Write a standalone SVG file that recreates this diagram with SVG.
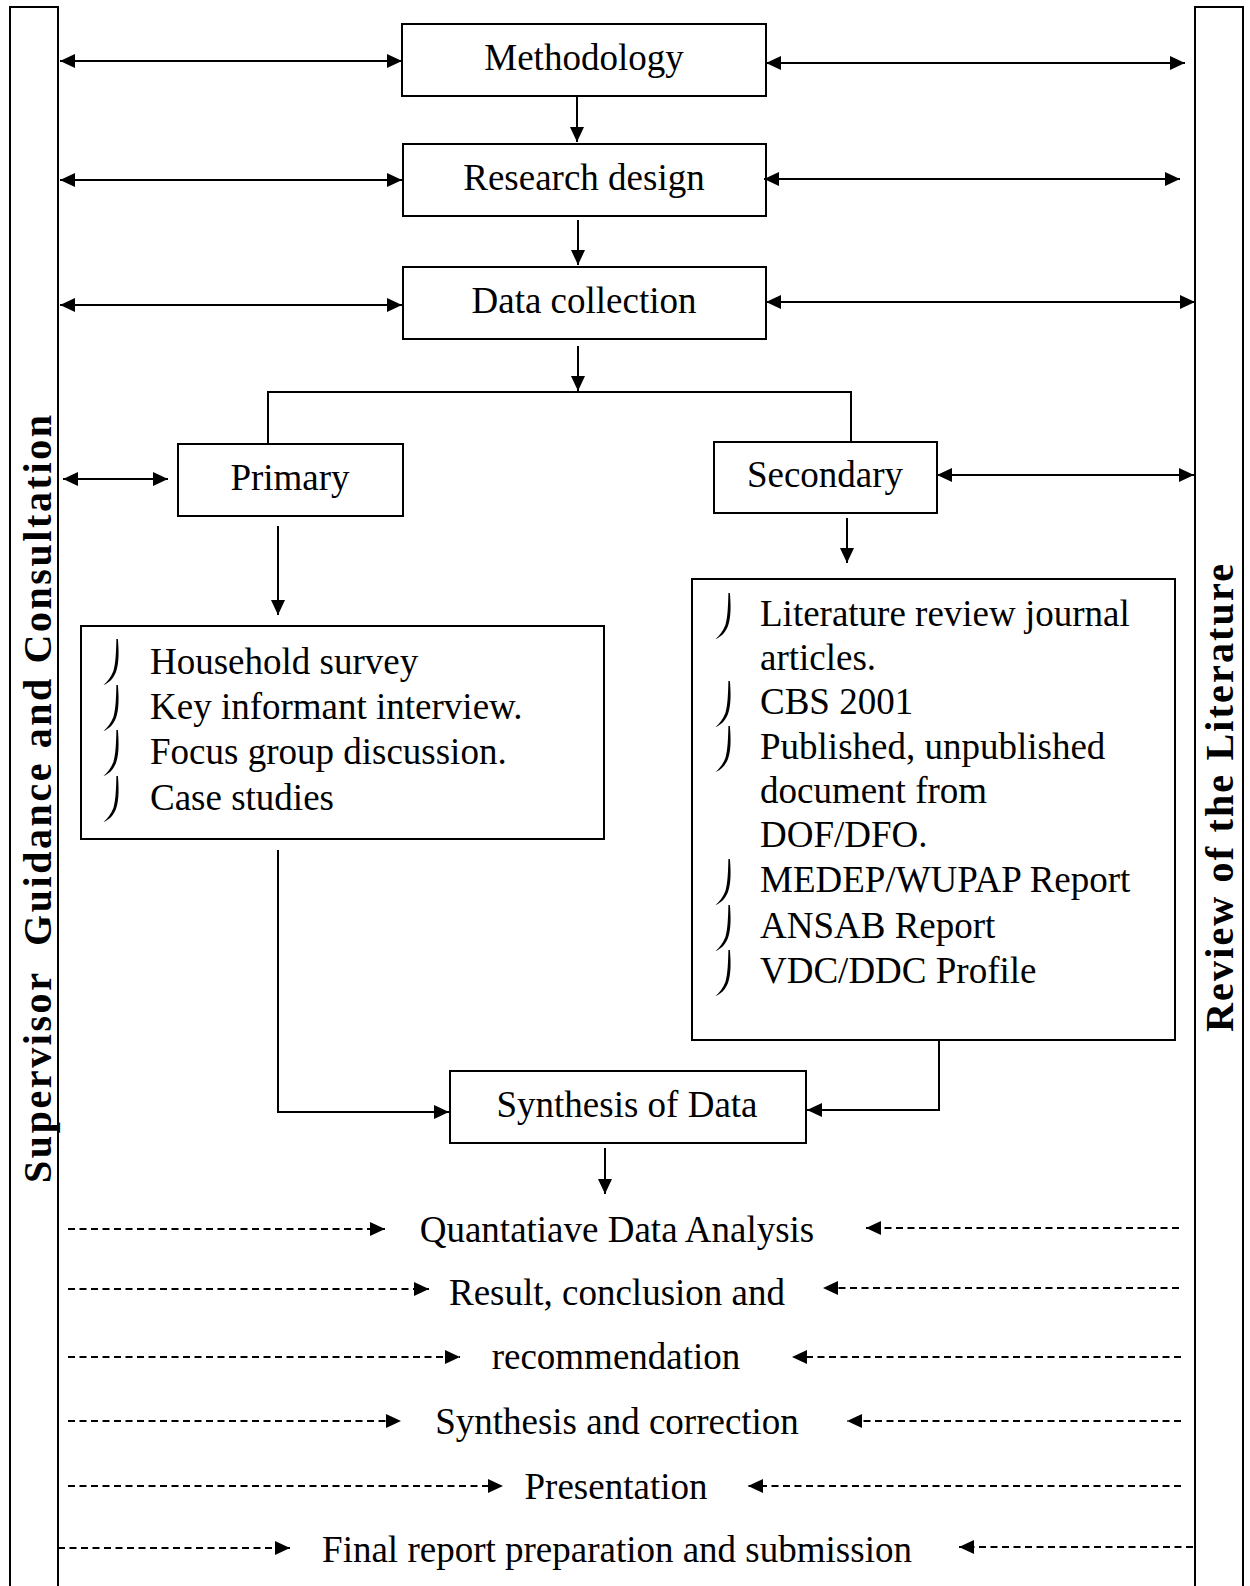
<svg xmlns="http://www.w3.org/2000/svg" width="1250" height="1586" viewBox="0 0 1250 1586">
  <style>
    .box { fill: #fff; stroke: #000; stroke-width: 2; }
    .bar { fill: #fff; stroke: #000; stroke-width: 2; }
    .lbl { font-family: "Liberation Serif", "Times New Roman", serif; font-size: 37px; fill: #000; }
    .mid { text-anchor: middle; }
    .side { font-family: "Liberation Serif", "Times New Roman", serif; font-size: 40px; font-weight: bold; fill: #000; }
    .ln { fill: none; stroke: #000; stroke-width: 2; }
    .arr { marker-end: url(#ah); }
    .both { marker-start: url(#ah); marker-end: url(#ah); }
    .dash { fill: none; stroke: #000; stroke-width: 1.8; stroke-dasharray: 7 4.5; marker-end: url(#ah); }
    .tick { fill: #000; }
  </style>
  <defs>
    <marker id="ah" viewBox="0 0 15 14" markerWidth="15" markerHeight="14" refX="15" refY="7" markerUnits="userSpaceOnUse" orient="auto-start-reverse">
      <path d="M0,0 L15,7 L0,14 Z" fill="#000"/>
    </marker>
    <!-- list bullet: thin hooked stroke -->
    <path id="bul" class="tick" d="M-0.6,0 L0.9,0 C1.9,12 2.2,24 -1,33 C-4,40 -8,44 -13.5,46 C-9.5,42.5 -6,38 -3.6,32 C-1.2,24 -0.9,12 -0.6,0 Z"/>
  </defs>

  <!-- side panels -->
  <g id="supervisor">
    <rect class="bar" x="10" y="7" width="48" height="1600"/>
    <text class="side" xml:space="preserve" transform="translate(51,1183) rotate(-90)" x="0" y="0" textLength="768" lengthAdjust="spacing">Supervisor  Guidance and Consultation</text>
  </g>
  <g id="literature">
    <rect class="bar" x="1195" y="7" width="48" height="1600"/>
    <text class="side" transform="translate(1233,1032) rotate(-90)" x="0" y="0" textLength="468" lengthAdjust="spacing">Review of the Literature</text>
  </g>

  <!-- process boxes -->
  <g id="methodology">
    <rect class="box" x="402" y="24" width="364" height="72"/>
    <text class="lbl mid" x="584" y="70">Methodology</text>
  </g>
  <g id="research-design">
    <rect class="box" x="403" y="144" width="363" height="72"/>
    <text class="lbl mid" x="584" y="190">Research design</text>
  </g>
  <g id="data-collection">
    <rect class="box" x="403" y="267" width="363" height="72"/>
    <text class="lbl mid" x="584" y="313">Data collection</text>
  </g>
  <g id="primary">
    <rect class="box" x="178" y="444" width="225" height="72"/>
    <text class="lbl mid" x="290" y="490">Primary</text>
  </g>
  <g id="secondary">
    <rect class="box" x="714" y="442" width="223" height="71"/>
    <text class="lbl mid" x="825" y="487">Secondary</text>
  </g>
  <g id="primary-sources">
    <rect class="box" x="81" y="626" width="523" height="213"/>
    <use href="#bul" x="117" y="639"/>
    <use href="#bul" x="117" y="685"/>
    <use href="#bul" x="117" y="730"/>
    <use href="#bul" x="117" y="776"/>
    <text class="lbl" x="150" y="674">Household survey</text>
    <text class="lbl" x="150" y="719">Key informant interview.</text>
    <text class="lbl" x="150" y="764">Focus group discussion.</text>
    <text class="lbl" x="150" y="810">Case studies</text>
  </g>
  <g id="secondary-sources">
    <rect class="box" x="692" y="579" width="483" height="461"/>
    <use href="#bul" x="729" y="593"/>
    <use href="#bul" x="729" y="681"/>
    <use href="#bul" x="729" y="726"/>
    <use href="#bul" x="729" y="859"/>
    <use href="#bul" x="729" y="905"/>
    <use href="#bul" x="729" y="950"/>
    <text class="lbl" x="760" y="626">Literature review journal</text>
    <text class="lbl" x="760" y="670">articles.</text>
    <text class="lbl" x="760" y="714">CBS 2001</text>
    <text class="lbl" x="760" y="759">Published, unpublished</text>
    <text class="lbl" x="760" y="803">document from</text>
    <text class="lbl" x="760" y="847">DOF/DFO.</text>
    <text class="lbl" x="760" y="892">MEDEP/WUPAP Report</text>
    <text class="lbl" x="760" y="938">ANSAB Report</text>
    <text class="lbl" x="760" y="983">VDC/DDC Profile</text>
  </g>
  <g id="synthesis">
    <rect class="box" x="450" y="1071" width="356" height="72"/>
    <text class="lbl mid" x="627" y="1117">Synthesis of Data</text>
  </g>
  <g id="analysis-steps">
    <text class="lbl mid" x="617" y="1242">Quantatiave Data Analysis</text>
    <text class="lbl mid" x="617" y="1305">Result, conclusion and</text>
    <text class="lbl mid" x="616" y="1369">recommendation</text>
    <text class="lbl mid" x="617" y="1434">Synthesis and correction</text>
    <text class="lbl mid" x="616" y="1499">Presentation</text>
    <text class="lbl mid" x="617" y="1562">Final report preparation and submission</text>
  </g>

  <g id="connectors">
    <!-- two-way links to the side panels -->
    <line class="ln both" x1="60" y1="61" x2="402" y2="61"/>
    <line class="ln both" x1="766" y1="63" x2="1185" y2="63"/>
    <line class="ln both" x1="60" y1="180" x2="402" y2="180"/>
    <line class="ln both" x1="764" y1="179" x2="1180" y2="179"/>
    <line class="ln both" x1="60" y1="305" x2="402" y2="305"/>
    <line class="ln both" x1="766" y1="302" x2="1195" y2="302"/>
    <line class="ln both" x1="63" y1="479" x2="168" y2="479"/>
    <line class="ln both" x1="937" y1="475" x2="1194" y2="475"/>

    <!-- main flow -->
    <line class="ln arr" x1="577" y1="97" x2="577" y2="142"/>
    <line class="ln arr" x1="578" y1="220" x2="578" y2="265"/>
    <line class="ln arr" x1="578" y1="346" x2="578" y2="391"/>
    <polyline class="ln" points="268,443 268,392 851,392 851,442"/>
    <line class="ln arr" x1="278" y1="526" x2="278" y2="615"/>
    <line class="ln arr" x1="847" y1="518" x2="847" y2="563"/>
    <polyline class="ln arr" points="278,850 278,1112 449,1112"/>
    <polyline class="ln arr" points="939,1040 939,1110 807,1110"/>
    <line class="ln arr" x1="605" y1="1148" x2="605" y2="1194"/>

    <!-- dashed feedback arrows -->
    <line class="dash" x1="68" y1="1229" x2="385" y2="1229"/>
    <line class="dash" x1="1179" y1="1228" x2="866" y2="1228"/>
    <line class="dash" x1="68" y1="1289" x2="429" y2="1289"/>
    <line class="dash" x1="1179" y1="1288" x2="823" y2="1288"/>
    <line class="dash" x1="68" y1="1357" x2="460" y2="1357"/>
    <line class="dash" x1="1181" y1="1357" x2="792" y2="1357"/>
    <line class="dash" x1="68" y1="1421" x2="401" y2="1421"/>
    <line class="dash" x1="1181" y1="1421" x2="847" y2="1421"/>
    <line class="dash" x1="68" y1="1486" x2="503" y2="1486"/>
    <line class="dash" x1="1181" y1="1486" x2="748" y2="1486"/>
    <line class="dash" x1="58" y1="1548" x2="290" y2="1548"/>
    <line class="dash" x1="1193" y1="1547" x2="959" y2="1547"/>
  </g>
</svg>
